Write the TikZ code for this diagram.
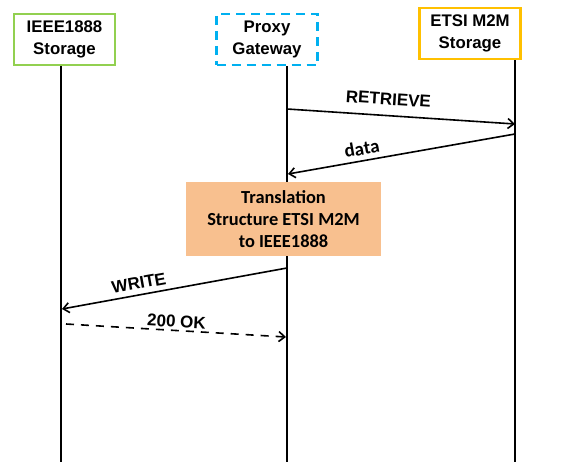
\documentclass[tikz,border=0pt]{standalone}
\usepackage{fontspec}
\newfontfamily\arialfont{Liberation Sans}
\newfontfamily\calibri{Carlito}
\usetikzlibrary{arrows.meta}
\definecolor{boxgreen}{HTML}{92D050}
\definecolor{boxcyan}{HTML}{00B0F0}
\definecolor{boxgold}{HTML}{FFC000}
\definecolor{peach}{HTML}{F8C08F}
\begin{document}
\begin{tikzpicture}[x=1pt,y=-1pt,
  actor/.style={draw, line width=2.5pt, fill=white, minimum width=101pt, minimum height=51pt,
    align=center, inner sep=0pt, font=\arialfont\bfseries\fontsize{16.8}{22}\selectfont},
  lifeline/.style={line width=2pt},
  msg/.style={line width=1.6pt, -{Straight Barb[length=6pt,width=10pt,line width=1.6pt]}},
  msglabel/.style={font=\arialfont\bfseries\fontsize{17}{19}\selectfont, sloped, above, inner sep=5pt}
]
\useasboundingbox (0,0) rectangle (569,462);
\node[actor, draw=boxgreen] (ieee) at (64.5,39.5) {IEEE1888\\Storage};
\node[actor, draw=boxcyan, dash pattern=on 9pt off 6pt] (proxy) at (267,39.5) {Proxy\\Gateway};
\node[actor, draw=boxgold] (etsi) at (470,33.5) {ETSI M2M\\Storage};

\coordinate (ieeeend) at (61,462);
\coordinate (proxyend) at (287,462);
\coordinate (etsiend) at (515,462);
\draw[lifeline] (ieee.south -| ieeeend) -- (ieeeend);
\draw[lifeline] (proxy.south -| proxyend) -- (proxyend);
\draw[lifeline] (etsi.south -| etsiend) -- (etsiend);

\node[fill=peach, minimum width=195pt, minimum height=74pt, align=center, inner sep=0pt,
  font=\calibri\bfseries\fontsize{18.4}{22.2}\selectfont] (trans) at (283.5,219)
  {Translation\\Structure ETSI M2M\\to IEEE1888};

\coordinate (r1) at (287,109);
\coordinate (r2) at (515,124);
\coordinate (d1) at (515,134);
\coordinate (d2) at (288,174);
\coordinate (w1) at (287,268);
\coordinate (w2) at (62,309);
\coordinate (o1) at (66,324);
\coordinate (o2) at (286,337);

\draw[msg] (r1) -- node[msglabel, pos=0.44, inner sep=10pt] (rl) {RETRIEVE} (r2);
\draw[msg] (d1) -- node[msglabel, pos=0.665, inner sep=5pt, font=\calibri\bfseries\fontsize{19}{21}\selectfont] (dl) {data} (d2);
\draw[msg] (w1) -- node[msglabel, pos=0.649, inner sep=5pt] (wl) {WRITE} (w2);
\draw[msg, dashed, dash pattern=on 8pt off 7pt] (o1) -- node[msglabel, pos=0.5, inner sep=2pt] (ol) {200 OK} (o2);
\end{tikzpicture}
\end{document}
